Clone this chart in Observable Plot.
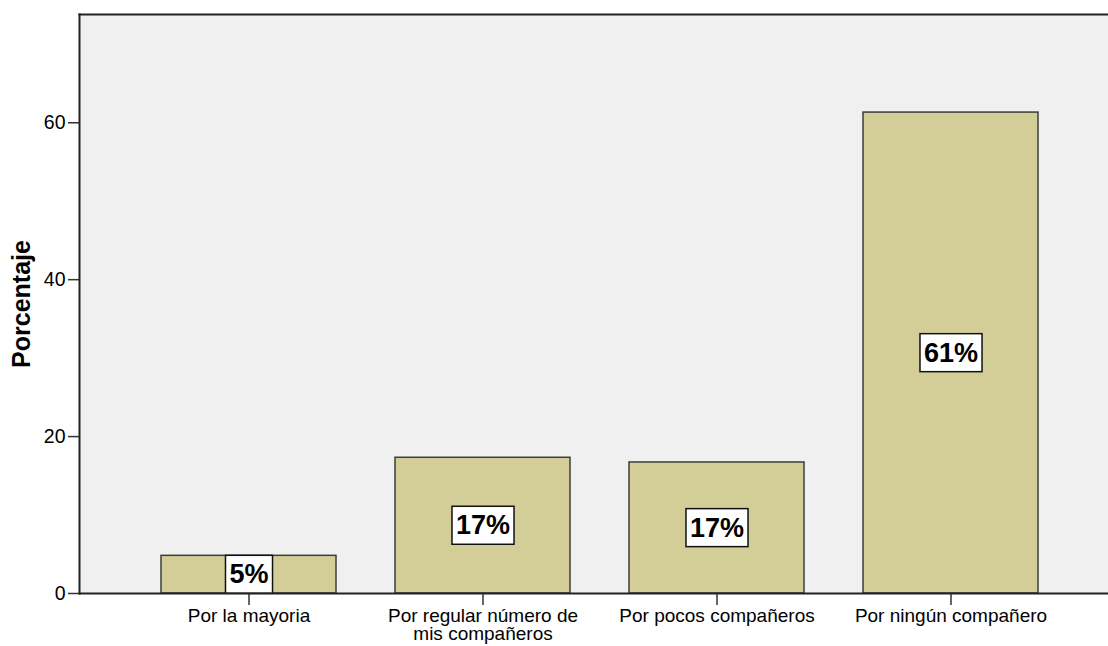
<!DOCTYPE html>
<html><head><meta charset="utf-8">
<script src="https://cdn.jsdelivr.net/npm/d3@7"></script>
<script src="https://cdn.jsdelivr.net/npm/@observablehq/plot@0.6"></script>
<style>
body{margin:0;background:#fff;}
#chart svg{display:block;}
#chart g[aria-label="y-axis label"] text{font-weight:bold;font-size:25px;}
</style></head><body><div id="chart"></div>
<script>
const categories = ["Por la mayoria","Por regular número de mis compañeros","Por pocos compañeros","Por ningún compañero"];
const tickLabels = ["Por la mayoria","Por regular número de\nmis compañeros","Por pocos compañeros","Por ningún compañero"];
const percentages = [4.8, 17.3, 16.7, 61.3];
const barLabels = ["5%","17%","17%","61%"];
const yTicks = [0, 20, 40, 60];
const yMax = 73.8;

const data = categories.map((c, i) => ({category: c, value: percentages[i], label: barLabels[i]}));

const chart = Plot.plot({
  width: 1108, height: 646,
  marginLeft: 79, marginTop: 14, marginBottom: 53, marginRight: 0,
  style: {fontFamily: "'Liberation Sans', Arial, sans-serif", fontSize: "19px", color: "#000", background: "#fff"},
  x: {domain: categories, range: [79, 1120], paddingInner: 0.252, paddingOuter: 0.35},
  y: {domain: [0, yMax]},
  marks: [
    Plot.frame({fill: "#f0f0f0", stroke: "none"}),
    Plot.barY(data, {x: "category", y: "value", fill: "#d3ce97", stroke: "#3c3c3c", strokeWidth: 1.5}),
    Plot.text(data, {x: "category", y: d => d.value / 2, text: "label", fontSize: 27, fontWeight: "bold", fill: "#000"}),
    Plot.axisX({tickSize: 12, tickPadding: 4, lineHeight: 0.95, tickFormat: d => tickLabels[categories.indexOf(d)], label: null, stroke: "#333", strokeWidth: 1.5}),
    Plot.axisY({ticks: yTicks, tickSize: 11, tickPadding: 3, fontSize: 19.5, label: "Porcentaje", labelAnchor: "center", labelArrow: "none", labelOffset: 67, stroke: "#333", strokeWidth: 1.5}),
    Plot.frame({anchor: "top", stroke: "#222", strokeWidth: 2}),
    Plot.frame({anchor: "left", stroke: "#222", strokeWidth: 2}),
    Plot.frame({anchor: "bottom", stroke: "#222", strokeWidth: 2})
  ]
});
document.getElementById("chart").append(chart);

const svgns = "http://www.w3.org/2000/svg";
const g = chart.querySelector('g[aria-label="text"]');
if (g) {
  g.querySelectorAll("text").forEach(t => {
    const b = t.getBBox();
    const r = document.createElementNS(svgns, "rect");
    r.setAttribute("x", b.x - 4);
    r.setAttribute("y", b.y - 4);
    r.setAttribute("width", b.width + 8);
    r.setAttribute("height", b.height + 8);
    r.setAttribute("fill", "#fff");
    r.setAttribute("stroke", "#111");
    r.setAttribute("stroke-width", "1.5");
    const tr = t.getAttribute("transform");
    if (tr) r.setAttribute("transform", tr);
    t.parentNode.insertBefore(r, t);
  });
}
</script></body></html>
